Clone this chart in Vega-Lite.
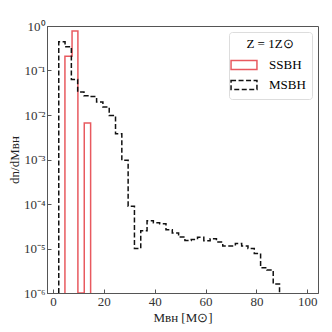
{
  "$schema": "https://vega.github.io/schema/vega-lite/v6.json",
  "width": 271,
  "height": 267,
  "autosize": {"type": "none"},
  "padding": {"left": 47, "top": 26, "right": 14, "bottom": 39},
  "background": "white",
  "config": {
    "font": "Liberation Serif",
    "view": {"stroke": "#555", "strokeWidth": 1},
    "axis": {
      "labelFont": "Liberation Serif",
      "titleFont": "Liberation Serif",
      "labelFontSize": 13,
      "titleFontSize": 13,
      "titleFontWeight": "normal",
      "grid": false,
      "tickColor": "#555",
      "domainColor": "#555",
      "labelColor": "#333",
      "titleColor": "#222",
      "tickSize": -4,
      "labelPadding": 6
    },
    "legend": {
      "labelFont": "Liberation Serif",
      "titleFont": "Liberation Serif"
    }
  },
  "data": {
    "values": [
      {"series": "SSBH", "i": 0, "x": 4.7, "y": 1e-6},
      {"series": "SSBH", "i": 1, "x": 4.7, "y": 0.21},
      {"series": "SSBH", "i": 2, "x": 7.5, "y": 0.77},
      {"series": "SSBH", "i": 3, "x": 9.8, "y": 1e-6},
      {"series": "SSBH", "i": 4, "x": 12.3, "y": 0.0066},
      {"series": "SSBH", "i": 5, "x": 14.8, "y": 1e-6},
      {"series": "MSBH", "i": 0, "x": 2.27, "y": 1e-6},
      {"series": "MSBH", "i": 1, "x": 2.27, "y": 0.44},
      {"series": "MSBH", "i": 2, "x": 4.75, "y": 0.34},
      {"series": "MSBH", "i": 3, "x": 7.23, "y": 0.063},
      {"series": "MSBH", "i": 4, "x": 9.71, "y": 0.033},
      {"series": "MSBH", "i": 5, "x": 12.19, "y": 0.027},
      {"series": "MSBH", "i": 6, "x": 14.67, "y": 0.026},
      {"series": "MSBH", "i": 7, "x": 17.15, "y": 0.0196},
      {"series": "MSBH", "i": 8, "x": 19.63, "y": 0.0151},
      {"series": "MSBH", "i": 9, "x": 22.11, "y": 0.0098},
      {"series": "MSBH", "i": 10, "x": 24.59, "y": 0.0038},
      {"series": "MSBH", "i": 11, "x": 27.07, "y": 0.00096},
      {"series": "MSBH", "i": 12, "x": 29.55, "y": 8.9e-5},
      {"series": "MSBH", "i": 13, "x": 32.03, "y": 1.0e-5},
      {"series": "MSBH", "i": 14, "x": 34.51, "y": 2.5e-5},
      {"series": "MSBH", "i": 15, "x": 36.99, "y": 4.2e-5},
      {"series": "MSBH", "i": 16, "x": 39.47, "y": 3.8e-5},
      {"series": "MSBH", "i": 17, "x": 41.95, "y": 3.6e-5},
      {"series": "MSBH", "i": 18, "x": 44.43, "y": 2.65e-5},
      {"series": "MSBH", "i": 19, "x": 46.91, "y": 2.24e-5},
      {"series": "MSBH", "i": 20, "x": 49.39, "y": 1.82e-5},
      {"series": "MSBH", "i": 21, "x": 51.87, "y": 1.52e-5},
      {"series": "MSBH", "i": 22, "x": 54.35, "y": 1.6e-5},
      {"series": "MSBH", "i": 23, "x": 56.83, "y": 1.78e-5},
      {"series": "MSBH", "i": 24, "x": 59.31, "y": 1.5e-5},
      {"series": "MSBH", "i": 25, "x": 61.79, "y": 1.65e-5},
      {"series": "MSBH", "i": 26, "x": 64.27, "y": 1.4e-5},
      {"series": "MSBH", "i": 27, "x": 66.75, "y": 1.14e-5},
      {"series": "MSBH", "i": 28, "x": 69.23, "y": 1.14e-5},
      {"series": "MSBH", "i": 29, "x": 71.71, "y": 1.3e-5},
      {"series": "MSBH", "i": 30, "x": 74.19, "y": 1.14e-5},
      {"series": "MSBH", "i": 31, "x": 76.67, "y": 1.0e-5},
      {"series": "MSBH", "i": 32, "x": 79.15, "y": 7.7e-6},
      {"series": "MSBH", "i": 33, "x": 81.63, "y": 3.7e-6},
      {"series": "MSBH", "i": 34, "x": 84.11, "y": 3.3e-6},
      {"series": "MSBH", "i": 35, "x": 86.59, "y": 1.6e-6},
      {"series": "MSBH", "i": 36, "x": 89.07, "y": 1e-6}
    ]
  },
  "mark": {"type": "line", "interpolate": "step-after", "strokeWidth": 1.5, "clip": true},
  "encoding": {
    "x": {
      "field": "x", "type": "quantitative",
      "scale": {"domain": [-2.35, 104.2], "nice": false, "zero": false},
      "axis": {"values": [0, 20, 40, 60, 80, 100], "title": "Mʙʜ [M⊙]", "titlePadding": 3}
    },
    "y": {
      "field": "y", "type": "quantitative",
      "scale": {"type": "log", "domain": [1e-6, 1], "nice": false},
      "axis": {
        "values": [1e-6, 1e-5, 1e-4, 1e-3, 1e-2, 1e-1, 1],
        "title": "dn/dMʙʜ",
        "titlePadding": 2,
        "labelExpr": "datum.value > 0.5 ? '10⁰' : datum.value > 0.05 ? '10⁻¹' : datum.value > 0.005 ? '10⁻²' : datum.value > 0.0005 ? '10⁻³' : datum.value > 0.00005 ? '10⁻⁴' : datum.value > 0.000005 ? '10⁻⁵' : '10⁻⁶'"
      }
    },
    "order": {"field": "i", "type": "quantitative"},
    "color": {
      "field": "series", "type": "nominal",
      "scale": {"domain": ["SSBH", "MSBH"], "range": ["#e8595f", "#111111"]},
      "legend": {
        "title": "Z = 1Z⊙",
        "orient": "top-right",
        "offset": 6,
        "symbolType": "M-1.6,-0.55H1.6V0.55H-1.6Z",
        "symbolSize": 262,
        "symbolStrokeWidth": 1.5,
        "symbolFillColor": "transparent",
        "labelFontSize": 13,
        "titleFontSize": 13,
        "titleFontWeight": "normal",
        "titleAnchor": "middle",
        "fillColor": "white",
        "strokeColor": "#ddd",
        "cornerRadius": 3,
        "padding": 6,
        "rowPadding": 3,
        "labelOffset": 16
      }
    },
    "strokeDash": {
      "field": "series", "type": "nominal",
      "scale": {"domain": ["SSBH", "MSBH"], "range": [[1, 0], [5, 2.5]]},
      "legend": {
        "title": "Z = 1Z⊙",
        "orient": "top-right",
        "offset": 6,
        "symbolType": "M-1.6,-0.55H1.6V0.55H-1.6Z",
        "symbolSize": 262,
        "symbolStrokeWidth": 1.5,
        "symbolFillColor": "transparent",
        "labelFontSize": 13,
        "titleFontSize": 13,
        "titleFontWeight": "normal",
        "titleAnchor": "middle",
        "fillColor": "white",
        "strokeColor": "#ddd",
        "cornerRadius": 3,
        "padding": 6,
        "rowPadding": 3,
        "labelOffset": 16
      }
    }
  }
}
